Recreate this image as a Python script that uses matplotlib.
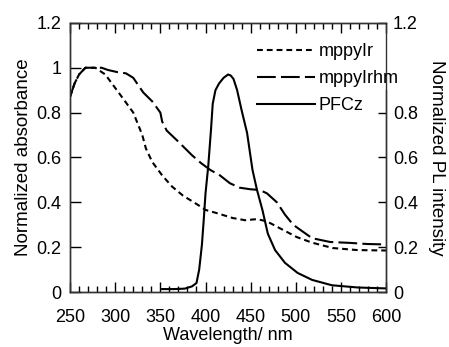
import matplotlib
matplotlib.use('Agg')
import matplotlib.pyplot as plt
from matplotlib.ticker import MultipleLocator

plt.rcParams['font.family'] = ['Liberation Sans', 'DejaVu Sans']

# absorbance, mppyIr
wl_ir = [250, 255, 260, 267, 278, 289, 300, 311, 320, 324, 330, 334, 341, 352, 363,
         375, 391, 400, 414, 430, 444, 457, 468, 482, 501, 518, 541, 568, 600]
abs_ir = [0.87, 0.93, 0.97, 1.0, 1.0, 0.97, 0.91, 0.85, 0.80, 0.76, 0.70, 0.64, 0.58,
          0.52, 0.47, 0.43, 0.39, 0.366, 0.35, 0.33, 0.32, 0.325, 0.315, 0.285, 0.245,
          0.22, 0.196, 0.187, 0.185]

# absorbance, mppyIrhm
wl_irhm = [250, 255, 260, 267, 275, 285, 292, 303, 312, 320, 331, 341, 350, 352, 357,
           370, 385, 395, 405, 416, 427, 438, 450, 460, 468, 479, 488, 497, 505, 518,
           538, 560, 579, 600]
abs_irhm = [0.87, 0.93, 0.97, 1.0, 1.0, 1.0, 0.99, 0.98, 0.975, 0.955, 0.89, 0.85, 0.80,
            0.76, 0.72, 0.67, 0.61, 0.575, 0.545, 0.52, 0.485, 0.465, 0.458, 0.455, 0.44,
            0.40, 0.345, 0.30, 0.277, 0.24, 0.223, 0.219, 0.214, 0.212]

# PL, PFCz
wl_pl = [352, 365, 377, 385, 390, 393, 396, 398, 400, 403, 406, 408, 411, 415, 420, 425,
         428, 431, 435, 440, 446, 452, 457, 463, 469, 477, 488, 502, 518, 540, 569, 600]
pl_pfcz = [0.013, 0.013, 0.015, 0.025, 0.04, 0.10, 0.21, 0.32, 0.44, 0.56, 0.72, 0.84,
           0.90, 0.93, 0.955, 0.97, 0.965, 0.95, 0.90, 0.81, 0.71, 0.545, 0.455, 0.366,
           0.26, 0.187, 0.13, 0.085, 0.054, 0.03, 0.02, 0.016]

yticks = [0, 0.2, 0.4, 0.6, 0.8, 1.0, 1.2]
ytick_labels = ['0', '0.2', '0.4', '0.6', '0.8', '1', '1.2']
# the right axis label at 1 sits under the legend, so it is left out
yticks_r = [0, 0.2, 0.4, 0.6, 0.8, 1.2]
ytick_labels_r = ['0', '0.2', '0.4', '0.6', '0.8', '1.2']

fig = plt.figure(figsize=(4.49, 3.47), dpi=100)
ax = fig.add_axes([0.156, 0.1585, 0.704, 0.7755])
ax2 = ax.twinx()

l1, = ax.plot(wl_ir, abs_ir, color='black', lw=1.5, dashes=(2.8, 1.9), label='mppyIr')
l2, = ax.plot(wl_irhm, abs_irhm, color='black', lw=1.5, dashes=(9, 2.5), label='mppyIrhm')
l3, = ax2.plot(wl_pl, pl_pfcz, color='black', lw=1.5, label='PFCz')

ax.set_xlim(250, 600)
ax.set_ylim(0, 1.2)
ax2.set_ylim(0, 1.2)

ax.xaxis.set_major_locator(MultipleLocator(50))
ax.xaxis.set_minor_locator(MultipleLocator(10))
ax.set_yticks(yticks)
ax.set_yticklabels(ytick_labels)
ax2.set_yticks(yticks_r)
ax2.set_yticklabels(ytick_labels_r)

ax.tick_params(axis='x', which='major', direction='in', length=7, width=1,
               top=True, labelsize=13, pad=12)
ax.tick_params(axis='x', which='minor', direction='in', length=4, width=1, top=True)
ax.tick_params(axis='y', which='major', direction='in', length=8, width=1,
               labelsize=13, pad=6)
ax2.tick_params(axis='y', which='major', direction='in', length=6, width=1,
                labelsize=13, pad=5)

for a in (ax, ax2):
    for sp in a.spines.values():
        sp.set_linewidth(1)
        sp.set_color('#333333')
ax2.spines['right'].set_bounds(0, 0.9)

ax.set_xlabel('Wavelength/ nm', fontsize=13, labelpad=1)
ax.set_ylabel('Normalized absorbance', fontsize=13.5, labelpad=3)
ax2.set_ylabel('Normalized PL intensity', fontsize=13.5, rotation=270, labelpad=19)

leg = ax2.legend([l1, l2, l3], ['mppyIr', 'mppyIrhm', 'PFCz'], loc='upper left',
                 bbox_to_anchor=(0.592, 0.925), fontsize=13, frameon=False,
                 handlelength=3.2, handletextpad=0.2, labelspacing=0.55,
                 borderpad=0, borderaxespad=0)

fig.savefig('out.png', dpi=100)
